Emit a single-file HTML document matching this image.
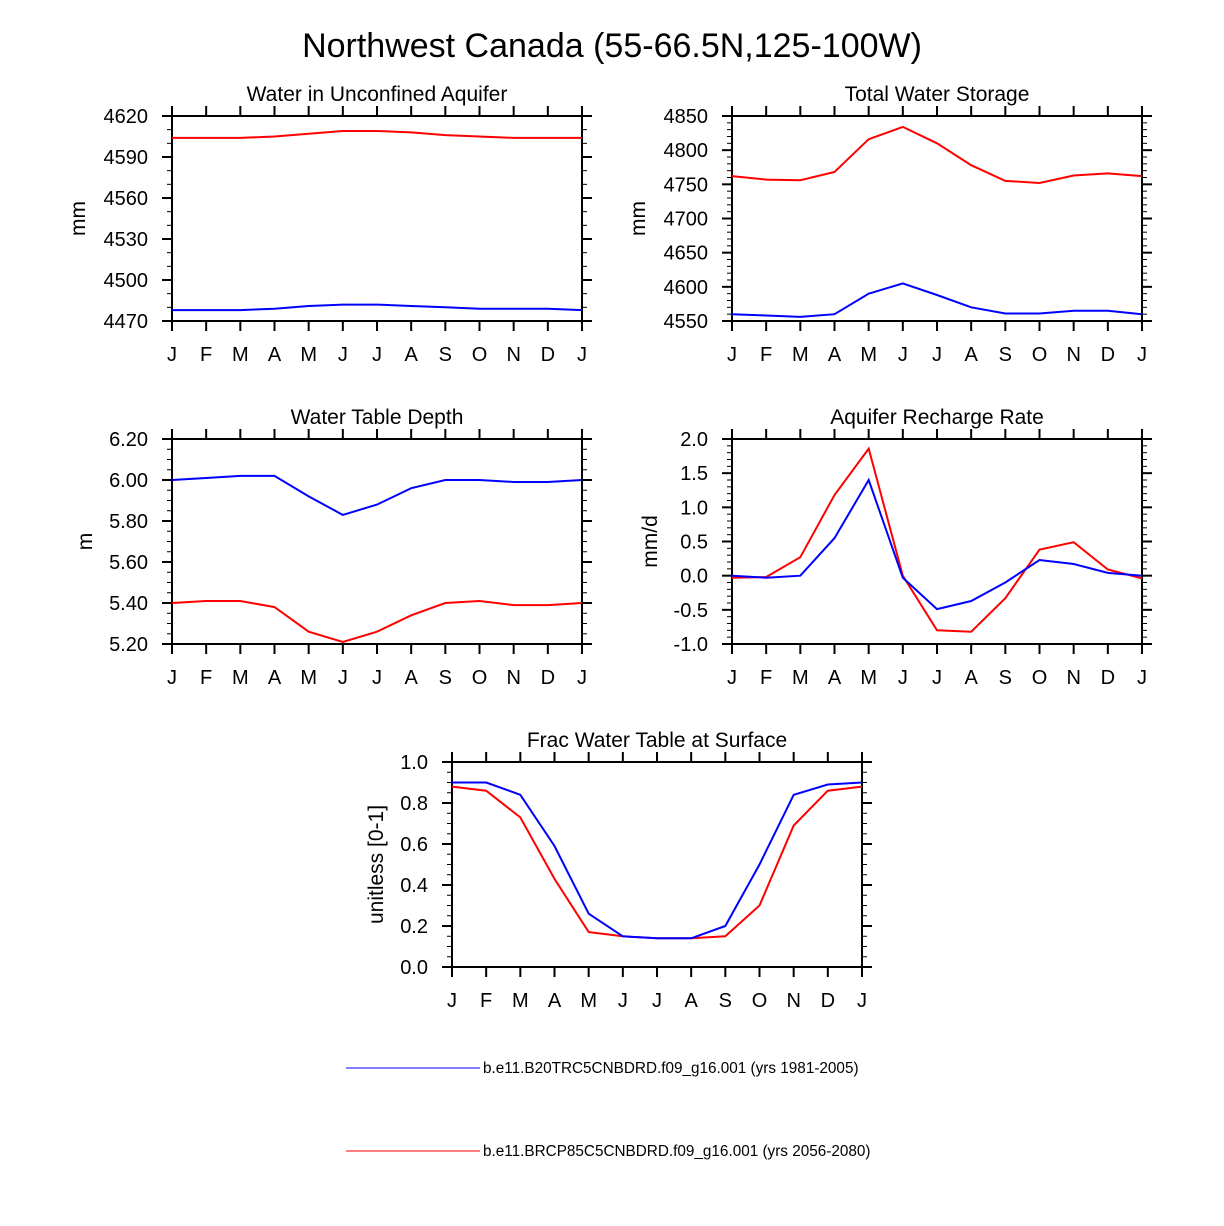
<!DOCTYPE html>
<html><head><meta charset="utf-8"><style>
html,body{margin:0;padding:0;background:#fff;}
svg{display:block;font-family:"Liberation Sans",Arial,sans-serif;}
</style></head><body>
<svg id="chart" width="1224" height="1226" viewBox="0 0 1224 1226" xmlns="http://www.w3.org/2000/svg">
<text x="612" y="57" font-size="34" text-anchor="middle">Northwest Canada (55-66.5N,125-100W)</text>
<g>
<line x1="346" y1="1068" x2="480" y2="1068" stroke="#0000ff" stroke-width="1"/>
<text x="483" y="1073" font-size="15.3">b.e11.B20TRC5CNBDRD.f09_g16.001 (yrs 1981-2005)</text>
<line x1="346" y1="1151" x2="480" y2="1151" stroke="#ff0000" stroke-width="1"/>
<text x="483" y="1156" font-size="15.3">b.e11.BRCP85C5CNBDRD.f09_g16.001 (yrs 2056-2080)</text>
</g>
</svg>
<script>
const months = ["J","F","M","A","M","J","J","A","S","O","N","D","J"];
const p1Blue = [4478,4478,4478,4479,4481,4482,4482,4481,4480,4479,4479,4479,4478];
const p1Red  = [4604,4604,4604,4605,4607,4609,4609,4608,4606,4605,4604,4604,4604];
const p1Ticks = ["4470","4500","4530","4560","4590","4620"];
const p2Blue = [4560,4558,4556,4560,4590,4605,4588,4570,4561,4561,4565,4565,4560];
const p2Red  = [4762,4757,4756,4768,4816,4834,4810,4778,4755,4752,4763,4766,4762];
const p2Ticks = ["4550","4600","4650","4700","4750","4800","4850"];
const p3Blue = [6.00,6.01,6.02,6.02,5.92,5.83,5.88,5.96,6.00,6.00,5.99,5.99,6.00];
const p3Red  = [5.40,5.41,5.41,5.38,5.26,5.21,5.26,5.34,5.40,5.41,5.39,5.39,5.40];
const p3Ticks = ["5.20","5.40","5.60","5.80","6.00","6.20"];
const p4Blue = [0.0,-0.03,0.0,0.55,1.4,-0.03,-0.49,-0.37,-0.1,0.23,0.17,0.04,0.0];
const p4Red  = [-0.03,-0.02,0.27,1.18,1.86,0.0,-0.8,-0.82,-0.33,0.38,0.49,0.09,-0.04];
const p4Ticks = ["-1.0","-0.5","0.0","0.5","1.0","1.5","2.0"];
const p5Blue = [0.9,0.9,0.84,0.59,0.26,0.15,0.14,0.14,0.2,0.5,0.84,0.89,0.9];
const p5Red  = [0.88,0.86,0.73,0.43,0.17,0.15,0.14,0.14,0.15,0.3,0.69,0.86,0.88];
const p5Ticks = ["0.0","0.2","0.4","0.6","0.8","1.0"];

const NS="http://www.w3.org/2000/svg";
const svg=document.getElementById('chart');
function mk(tag,attrs,parent){const e=document.createElementNS(NS,tag);for(const k in attrs)e.setAttribute(k,attrs[k]);parent.appendChild(e);return e;}

function panel(name,x0,y0,title,ytitle,yoff,ticks,minorPer,blue,red){
  const W=410,H=205;
  const g=mk('g',{},svg);
  
  
  const vals=ticks.map(Number);
  const ymin=vals[0], ymax=vals[vals.length-1];
  const xs=i=>x0+i*W/(months.length-1);
  const ys=v=>y0+H-(v-ymin)/(ymax-ymin)*H;
  const step=vals[1]-vals[0];
  for(let k=0;k<vals.length-1;k++){
    for(let m=1;m<=minorPer;m++){
      const v=vals[k]+step*m/(minorPer+1);
      const y=ys(v);
      mk('line',{x1:x0-5,y1:y,x2:x0,y2:y,stroke:'#000','stroke-width':1},g);
      mk('line',{x1:x0+W,y1:y,x2:x0+W+5,y2:y,stroke:'#000','stroke-width':1},g);
    }
  }
  ticks.forEach((t,i)=>{
    const y=ys(vals[i]);
    mk('line',{x1:x0-10,y1:y,x2:x0,y2:y,stroke:'#000','stroke-width':2},g);
    mk('line',{x1:x0+W,y1:y,x2:x0+W+10,y2:y,stroke:'#000','stroke-width':2},g);
    const tx=mk('text',{x:x0-24,y:y+7,'font-size':20,'text-anchor':'end'},g);
    tx.textContent=t;
    
    
  });
  months.forEach((m,i)=>{
    const x=xs(i);
    mk('line',{x1:x,y1:y0-10,x2:x,y2:y0,stroke:'#000','stroke-width':2},g);
    mk('line',{x1:x,y1:y0+H,x2:x,y2:y0+H+10,stroke:'#000','stroke-width':2},g);
    const tx=mk('text',{x:x,y:y0+H+40,'font-size':20,'text-anchor':'middle'},g);
    tx.textContent=m;
    
    
  });
  const rect=mk('rect',{x:x0,y:y0,width:W,height:H,fill:'none',stroke:'#000','stroke-width':2},g);
  
  
  const tt=mk('text',{x:x0+W/2,y:y0-15,'font-size':21,'text-anchor':'middle'},g);
  tt.textContent=title;
  
  
  const yx=x0-yoff, yy=y0+H/2;
  const yt=mk('text',{x:yx,y:yy,'font-size':21,'text-anchor':'middle',transform:`rotate(-90 ${yx} ${yy})`},g);
  yt.textContent=ytitle;
  
  
  [[red,'#ff0000','series-red'],[blue,'#0000ff','series-blue']].forEach(([arr,c,n])=>{
    const pts=arr.map((v,i)=>xs(i).toFixed(1)+','+ys(v).toFixed(1)).join(' ');
    const pl=mk('polyline',{points:pts,fill:'none',stroke:c,'stroke-width':2},g);
    
    
  });
}
panel('panel-unconfined-aquifer',172,116,'Water in Unconfined Aquifer','mm',87,p1Ticks,2,p1Blue,p1Red);
panel('panel-total-water-storage',732,116,'Total Water Storage','mm',87,p2Ticks,4,p2Blue,p2Red);
panel('panel-water-table-depth',172,439,'Water Table Depth','m',80,p3Ticks,3,p3Blue,p3Red);
panel('panel-aquifer-recharge',732,439,'Aquifer Recharge Rate','mm/d',75,p4Ticks,4,p4Blue,p4Red);
panel('panel-frac-water-table',452,762,'Frac Water Table at Surface','unitless [0-1]',69,p5Ticks,3,p5Blue,p5Red);
</script>
</body></html>
